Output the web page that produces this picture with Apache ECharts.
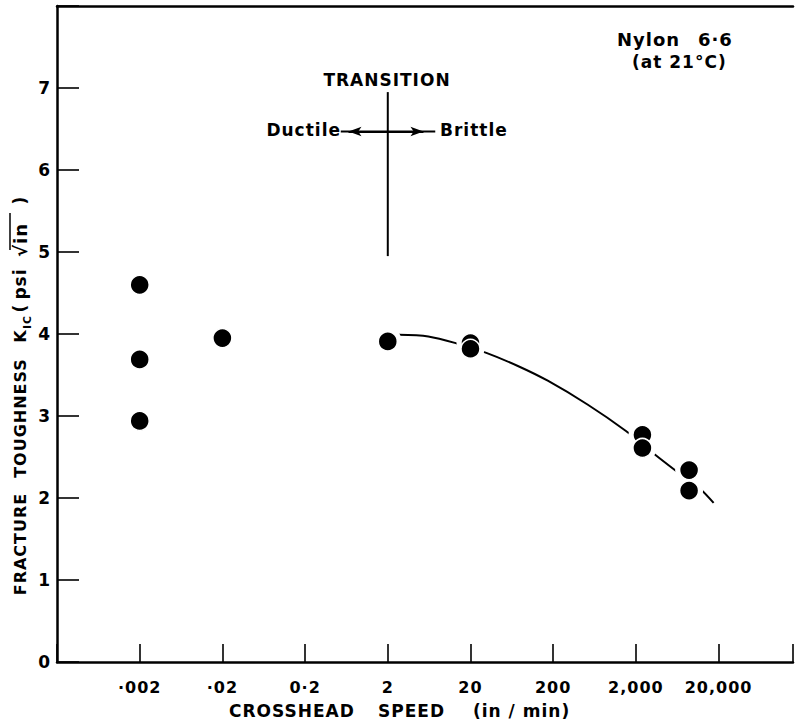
<!DOCTYPE html>
<html>
<head>
<meta charset="utf-8">
<script src="https://cdn.jsdelivr.net/npm/echarts@6.0.0/dist/echarts.min.js"></script>
<style>
html,body{margin:0;padding:0;background:#fff;}
#chart{width:796px;height:724px;letter-spacing:1px;}
</style>
</head>
<body>
<div id="chart"></div>
<script>
// ---- data ----
const xTickLabels = ['·002', '·02', '0·2', '2', '20', '200', '2,000', '20,000'];
const yTickLabels = ['0', '1', '2', '3', '4', '5', '6', '7'];

// measured points: crosshead speed (in/min) and K_IC (psi√in)
const pointSpeeds = [0.002, 0.002, 0.002, 0.02, 2, 20, 20, 2400, 2400, 8800, 8800];
const pointK      = [4.60, 3.69, 2.94, 3.95, 3.91, 3.89, 3.82, 2.77, 2.61, 2.34, 2.09];

// hand-drawn trend curve
const curveSpeeds = [2.69, 6.18, 14.2, 31.1, 74.8, 172, 520, 1503, 3303, 6904, 12020, 17420];
const curveK      = [3.99, 3.97, 3.88, 3.77, 3.61, 3.43, 3.14, 2.82, 2.54, 2.29, 2.11, 1.94];

// transition marker
const transitionSpeed = 2;
const transitionK = [4.95, 6.95];
const arrowK = 6.47;
const arrowSpan = [0.54, 7.5];
const arrowHeads = [0.67, 5.4];

// log axis helper: ticks at 2·10^n
const lx = s => Math.log10(s / 2);

const pts = pointSpeeds.map((s, i) => [lx(s), pointK[i]]);
const curve = curveSpeeds.map((s, i) => [lx(s), curveK[i]]);

const FONT = 'DejaVu Sans';
const chart = echarts.init(document.getElementById('chart'), null, {renderer: 'svg'});

function txt(text, x, y, size, align, rot) {
  return {
    type: 'text', x: x, y: y, rotation: rot || 0, silent: true,
    style: {text: text, fill: '#000', font: 'bold ' + size + 'px "' + FONT + '"',
            textAlign: align || 'center', textVerticalAlign: 'middle'}
  };
}

const option = {
  animation: false,
  backgroundColor: '#fff',
  grid: {left: 57, right: 0, top: 6, bottom: 62},
  xAxis: [{
    type: 'value', min: -4, max: 4.9, interval: 1,
    axisLine: {show: true, onZero: false, lineStyle: {color: '#000', width: 2.5}},
    axisTick: {show: true, inside: true, length: 18, lineStyle: {color: '#000', width: 1.6}},
    splitLine: {show: false},
    axisLabel: {
      margin: 17, color: '#000', fontFamily: FONT, fontSize: 16, fontWeight: 'bold',
      formatter: v => {
        const r = Math.round(v);
        if (Math.abs(v - r) > 1e-6) return '';
        return xTickLabels[r + 3] || '';
      }
    }
  }, {
    type: 'value', position: 'top', min: -4, max: 4.9,
    axisLine: {show: true, onZero: false, lineStyle: {color: '#000', width: 2.5}},
    axisTick: {show: false}, axisLabel: {show: false}, splitLine: {show: false}
  }],
  yAxis: {
    type: 'value', min: 0, max: 8, interval: 1,
    axisLine: {show: true, onZero: false, lineStyle: {color: '#000', width: 2.5}},
    axisTick: {show: true, inside: true, length: 22, lineStyle: {color: '#000', width: 1.6}},
    splitLine: {show: false},
    axisLabel: {
      margin: 6, color: '#000', fontFamily: FONT, fontSize: 17, fontWeight: 'bold',
      formatter: v => yTickLabels[Math.round(v)] || ''
    }
  },
  series: [
    {
      type: 'line', data: curve, smooth: 0.3, symbol: 'none', z: 1,
      lineStyle: {color: '#000', width: 2}, silent: true
    },
    {
      type: 'scatter', data: pts, symbolSize: 28, z: 2, silent: true,
      itemStyle: {color: '#fff', opacity: 1}
    },
    {
      type: 'scatter', data: pts, symbolSize: 19, z: 3, silent: true,
      itemStyle: {color: '#000', borderColor: '#fff', borderWidth: 1.5, opacity: 1}
    },
    {
      type: 'line', symbol: 'none', z: 4, silent: true,
      data: [[lx(transitionSpeed), transitionK[0]], [lx(transitionSpeed), transitionK[1]]],
      lineStyle: {color: '#000', width: 2}
    },
    {
      type: 'line', symbol: 'none', z: 4, silent: true,
      data: [[lx(arrowSpan[0]), arrowK], [lx(arrowSpan[1]), arrowK]],
      lineStyle: {color: '#000', width: 2},
      markLine: {
        silent: true, symbol: ['none', 'arrow'], symbolSize: [7, 13],
        label: {show: false},
        lineStyle: {color: '#000', width: 2, type: 'solid'},
        data: [
          [{coord: [lx(transitionSpeed), arrowK]}, {coord: [lx(arrowHeads[0]), arrowK]}],
          [{coord: [lx(transitionSpeed), arrowK]}, {coord: [lx(arrowHeads[1]), arrowK]}]
        ]
      }
    }
  ],
  graphic: [
    txt('TRANSITION', 387, 80, 17, 'center'),
    txt('Ductile', 341, 130, 17, 'right'),
    txt('Brittle', 440, 130, 17, 'left'),
    txt('Nylon', 617, 39, 18, 'left'),
    txt('6·6', 698, 39, 18, 'left'),
    txt('(at 21°C)', 632, 62, 17, 'left'),
    txt('CROSSHEAD', 229, 711, 17, 'left'),
    txt('SPEED', 378, 711, 17, 'left'),
    txt('(in / min)', 473, 711, 17, 'left'),
    txt('FRACTURE', 20, 544, 16, 'center', Math.PI / 2),
    txt('TOUGHNESS', 20, 418, 16, 'center', Math.PI / 2),
    txt('K', 20, 336, 16, 'center', Math.PI / 2),
    txt('IC', 27, 322, 11, 'center', Math.PI / 2),
    txt('(', 20, 308, 17, 'center', Math.PI / 2),
    txt('psi', 20, 284, 17, 'center', Math.PI / 2),
    txt('√in', 20, 240, 18, 'center', Math.PI / 2),
    txt(')', 20, 200, 17, 'center', Math.PI / 2),
    {
      type: 'line', silent: true,
      shape: {x1: 10, y1: 213, x2: 10, y2: 250},
      style: {stroke: '#000', lineWidth: 1.5}
    }
  ]
};
chart.setOption(option);
</script>
</body>
</html>
